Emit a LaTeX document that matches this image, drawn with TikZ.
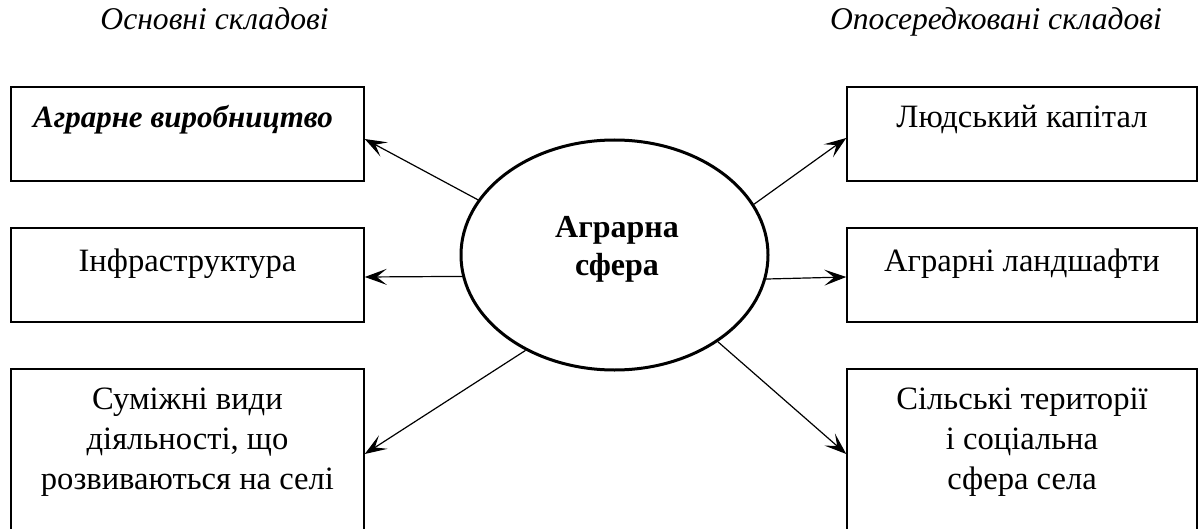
\documentclass[tikz,border=0pt]{standalone}
\usepackage{fontspec}
\setmainfont{Liberation Serif}
\usetikzlibrary{shapes.geometric,arrows.meta}
\begin{document}
\begin{tikzpicture}[x=0.5pt,y=-0.5pt,
  box/.style={draw,line width=0.75pt,rectangle,inner sep=0pt,minimum width=176.5pt},
  body/.style={font=\fontsize{16.3}{20}\selectfont,align=center,inner sep=0pt,anchor=base},
  ttl/.style={font=\fontsize{15.8}{18}\selectfont\itshape,inner sep=0pt,anchor=base},
  arr/.style={line width=0.6pt,-{Stealth[length=11pt,width=8pt,inset=5pt]}}]
\clip (0,0) rectangle (1203,529);
% titles
\node[ttl] (tl) at (214.5,30) {Основні складові};
\node[ttl] (tr) at (996,30) {Опосередковані складові};
% left boxes
\node[box,minimum height=47pt] (l1) at (187.5,134) {};
\node[box,minimum height=47pt] (l2) at (187.5,275) {};
\node[box,minimum height=85pt] (l3) at (187.5,454) {};
% right boxes
\node[box,minimum width=175pt,minimum height=47pt] (r1) at (1022,134) {};
\node[box,minimum width=175pt,minimum height=47pt] (r2) at (1022,275) {};
\node[box,minimum width=175pt,minimum height=85pt] (r3) at (1022,454) {};
% texts
\node[body,font=\fontsize{15.5}{18}\selectfont\bfseries\itshape] (l1t) at (183,128) {Аграрне виробництво};
\node[body] (l2t) at (187.5,271) {Інфраструктура};
\node[body] (l3t) at (187.5,489) {Суміжні види\\діяльності, що\\розвиваються на селі};
\node[body] (r1t) at (1022,128) {Людський капітал};
\node[body] (r2t) at (1022,271) {Аграрні ландшафти};
\node[body] (r3t) at (1022,489) {Сільські території\\і соціальна\\сфера села};
% center
\node[draw,ellipse,line width=1.5pt,inner sep=0pt,minimum width=153.5pt,minimum height=115pt] (c) at (614.5,255) {};
\node[font=\fontsize{16}{19}\selectfont\bfseries,align=center,inner sep=0pt,anchor=base] (ct) at (617,275) {Аграрна\\сфера};
% arrows
\draw[arr] (c.158.7) -- ([yshift=-2.5pt]l1.east);
\draw[arr] (c.188.2) -- ([yshift=-1pt]l2.east);
\draw[arr] (c.227.8) -- (l3.east);
\draw[arr] (c.20.3) -- ([yshift=-2pt]r1.west);
\draw[arr] (c.351.8) -- ([yshift=-1pt]r2.west);
\draw[arr] (c.320.6) -- (r3.west);
\end{tikzpicture}
\end{document}
